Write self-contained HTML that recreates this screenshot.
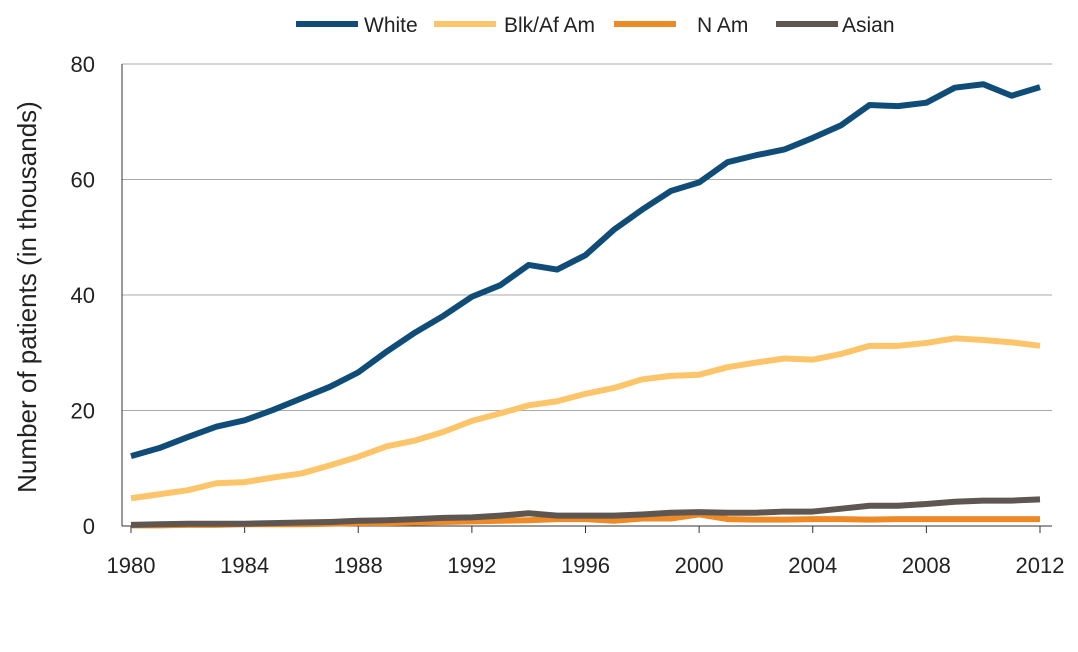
<!DOCTYPE html>
<html><head><meta charset="utf-8"><style>
body{margin:0;background:#fff;}
svg text{font-family:"Liberation Sans",sans-serif;fill:#222;}
</style></head><body>
<svg id="c" width="1078" height="647" xmlns="http://www.w3.org/2000/svg"></svg>
<script>
const s=document.getElementById('c');
const X=y=>131+(y-1980)*(1040-131)/32, Y=v=>526-v*(526-64)/80;
let h='';
for(let v=0;v<=80;v+=20){h+=`<line x1="122" x2="1052" y1="${Y(v)}" y2="${Y(v)}" stroke="${v?'#aaa':'#333'}" stroke-width="1"/>`;
h+=`<text x="95" y="${Y(v)+8}" font-size="22" text-anchor="end">${v}</text>`;}
h+=`<line x1="122" x2="122" y1="64" y2="526" stroke="#333"/>`;
for(let y=1980;y<=2012;y+=4){h+=`<line x1="${X(y)}" x2="${X(y)}" y1="526" y2="533" stroke="#333"/><text x="${X(y)}" y="573" font-size="22" text-anchor="middle">${y}</text>`;}
h+=`<text transform="translate(36,297) rotate(-90)" font-size="26" text-anchor="middle">Number of patients (in thousands)</text>`;
const W=[12.1,13.5,15.4,17.2,18.3,20.1,22.1,24.1,26.6,30.2,33.5,36.4,39.7,41.7,45.2,44.4,46.9,51.3,54.8,58.0,59.5,63.0,64.2,65.2,67.2,69.4,72.9,72.7,73.3,75.9,76.5,74.5,76.0];
const B=[4.8,5.5,6.2,7.4,7.6,8.4,9.1,10.5,12.0,13.8,14.8,16.3,18.2,19.5,20.9,21.6,22.9,23.9,25.4,26.0,26.2,27.5,28.3,29.0,28.8,29.8,31.2,31.2,31.7,32.5,32.2,31.8,31.2];
const N=[0.1,0.1,0.2,0.2,0.3,0.3,0.3,0.4,0.5,0.5,0.6,0.7,0.8,0.9,1.0,1.2,1.2,0.9,1.3,1.3,2.0,1.2,1.1,1.1,1.2,1.2,1.1,1.2,1.2,1.2,1.2,1.2,1.2];
const A=[0.2,0.3,0.4,0.4,0.4,0.5,0.6,0.7,0.9,1.0,1.2,1.4,1.5,1.8,2.2,1.8,1.8,1.8,2.0,2.3,2.4,2.3,2.3,2.5,2.5,3.0,3.5,3.5,3.8,4.2,4.4,4.4,4.6];
const line=(d,c)=>`<polyline fill="none" stroke="${c}" stroke-width="6" stroke-linejoin="round" points="${d.map((v,i)=>X(1980+i)+','+Y(v)).join(' ')}"/>`;
h+=line(B,'#fdc56a')+line(N,'#ee8a25')+line(A,'#5e5650')+line(W,'#0f4d78');
const L=[[296,'#0f4d78','White'],[434,'#fdc56a','Blk/Af Am'],[614,'#ee8a25','N Am'],[776,'#5e5650','Asian']];
const TX=[364,504,697,842];
L.forEach((l,i)=>{h+=`<line x1="${l[0]}" x2="${l[0]+62}" y1="24" y2="24" stroke="${l[1]}" stroke-width="6"/><text x="${TX[i]}" y="32" font-size="21">${l[2]}</text>`;});
s.innerHTML=h;
</script>
</body></html>
